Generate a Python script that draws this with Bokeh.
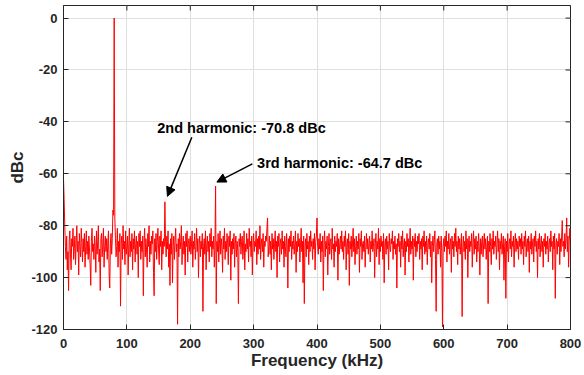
import math
from bokeh.plotting import figure
from bokeh.models import (FixedTicker, Label, Arrow, NormalHead, Range1d)
from bokeh.embed import file_html
from bokeh.resources import INLINE

# Frequency grid (kHz), 1 kHz steps from 0 to 800
freq_step_khz = 1
# Spectrum values in dBc (rows of 40 kHz)
spectrum_dbc = [
    -62, -70, -80, -88, -93, -84, -97, -90, -105, -86, -82, -91, -97, -85, -88, -81, -93, -89, -84, -95, -87, -80, -90, -86, -99, -83, -88, -92, -81, -87, -94, -85, -90, -83, -96, -88, -82, -91, -86, -93,
    -84, -89, -95, -103, -86, -81, -90, -87, -93, -84, -88, -98, -82, -91, -86, -80, -94, -89, -105, -85, -83, -92, -87, -81, -96, -88, -84, -90, -85, -93, -86, -82, -99, -104, -87, -83, -91, -85, -74, -76,
    0, -77, -85, -92, -88, -81, -96, -86, -90, -83, -111, -87, -84, -93, -80, -89, -86, -95, -82, -91, -88, -84, -99, -87, -81, -92, -86, -90, -83, -97, -85, -89, -82, -94, -87, -84, -91, -86, -100, -83,
    -88, -82, -93, -86, -90, -84, -107, -87, -81, -92, -85, -89, -96, -83, -88, -80, -94, -86, -91, -84, -87, -82, -98, -107, -85, -90, -83, -93, -86, -81, -89, -95, -84, -88, -82, -97, -86, -91, -85, -88,
    -70.8, -86, -92, -84, -89, -82, -96, -87, -103, -85, -91, -83, -102, -88, -84, -93, -86, -81, -90, -87, -118, -85, -92, -83, -89, -86, -80, -95, -88, -84, -91, -86, -99, -83, -88, -82, -94, -87, -85, -90,
    -84, -91, -87, -82, -96, -86, -89, -83, -93, -88, -81, -90, -85, -100, -87, -84, -92, -86, -89, -83, -113, -88, -85, -91, -82, -97, -87, -84, -90, -86, -94, -83, -88, -81, -92, -86, -89, -84, -96, -87,
    -64.7, -110, -86, -90, -83, -94, -87, -82, -91, -85, -88, -98, -84, -89, -81, -93, -86, -90, -83, -87, -95, -84, -88, -82, -101, -86, -91, -85, -89, -83, -96, -87, -84, -92, -86, -90, -110, -85, -88, -83,
    -91, -86, -84, -93, -88, -82, -97, -87, -90, -83, -89, -85, -94, -81, -88, -86, -92, -84, -99, -87, -83, -90, -86, -88, -82, -95, -85, -91, -84, -89, -80, -93, -87, -85, -90, -83, -96, -86, -88, -84,
    -86, -81, -77, -92, -88, -84, -91, -86, -97, -83, -89, -85, -93, -87, -82, -90, -86, -100, -84, -88, -83, -94, -87, -85, -91, -82, -89, -86, -96, -84, -88, -92, -83, -87, -104, -85, -90, -84, -88, -82,
    -93, -86, -89, -84, -91, -87, -82, -98, -86, -90, -83, -88, -85, -94, -87, -81, -90, -86, -102, -84, -110, -88, -85, -92, -83, -89, -86, -95, -84, -90, -82, -88, -86, -93, -85, -89, -83, -97, -86, -84,
    -77, -88, -91, -85, -89, -83, -94, -86, -90, -84, -105, -87, -82, -92, -86, -89, -84, -99, -88, -83, -91, -86, -85, -93, -81, -89, -87, -96, -84, -90, -86, -88, -83, -101, -85, -91, -87, -84, -89, -82,
    -90, -86, -93, -84, -88, -82, -97, -87, -85, -91, -83, -103, -86, -89, -84, -92, -87, -81, -90, -85, -95, -88, -84, -91, -86, -89, -83, -98, -85, -88, -82, -93, -87, -86, -90, -84, -96, -88, -83, -89,
    -85, -91, -87, -84, -94, -86, -89, -82, -90, -88, -85, -100, -87, -83, -92, -86, -89, -81, -95, -85, -90, -84, -88, -86, -93, -83, -102, -87, -85, -91, -84, -89, -86, -97, -83, -88, -90, -85, -87, -82,
    -93, -86, -89, -84, -91, -87, -104, -85, -88, -83, -90, -86, -96, -84, -89, -82, -92, -87, -85, -99, -86, -90, -83, -88, -85, -94, -87, -81, -91, -86, -89, -84, -101, -85, -88, -83, -92, -86, -90, -84,
    -87, -83, -93, -86, -89, -85, -97, -84, -88, -82, -91, -86, -90, -84, -95, -87, -85, -89, -83, -92, -86, -102, -88, -84, -90, -86, -82, -93, -113, -87, -85, -91, -84, -89, -86, -96, -84, -90, -119, -88,
    -85, -90, -84, -88, -82, -94, -86, -89, -83, -91, -87, -85, -98, -84, -89, -86, -92, -83, -88, -81, -90, -86, -95, -84, -89, -85, -91, -87, -83, -115, -88, -84, -90, -86, -93, -82, -89, -85, -100, -87,
    -84, -90, -86, -88, -83, -96, -87, -82, -91, -85, -89, -84, -94, -86, -90, -83, -88, -99, -85, -91, -86, -84, -92, -87, -83, -89, -85, -93, -88, -84, -110, -86, -90, -83, -88, -95, -85, -89, -82, -91,
    -86, -88, -84, -93, -87, -82, -90, -85, -97, -86, -89, -83, -91, -87, -84, -101, -88, -85, -108, -86, -90, -83, -94, -87, -85, -89, -82, -92, -86, -88, -84, -96, -87, -83, -90, -85, -89, -86, -93, -84,
    -88, -85, -91, -83, -89, -86, -95, -84, -88, -82, -92, -87, -85, -90, -84, -98, -86, -89, -83, -91, -87, -85, -94, -84, -88, -82, -90, -86, -100, -85, -89, -83, -92, -87, -84, -90, -86, -96, -85, -88,
    -83, -91, -86, -89, -84, -94, -87, -85, -90, -82, -88, -86, -97, -84, -89, -83, -108, -87, -85, -91, -86, -88, -83, -95, -85, -90, -84, -78, -88, -86, -92, -83, -89, -85, -77, -90, -84, -96, -86, -81,
    -85,
]
freq_khz = [i * freq_step_khz for i in range(len(spectrum_dbc))]

x_ticks = [0, 100, 200, 300, 400, 500, 600, 700, 800]
y_ticks = [0, -20, -40, -60, -80, -100, -120]
y_tick_labels = ["0", "-20", "-40", "-60", "-80", "-100", "-120"]
x_min, x_max = 0, 800
y_min, y_max = -120, 4.85

ann_texts = ["2nd harmonic: -70.8 dBc", "3rd harmonic: -64.7 dBc"]
ann_text_pos = [(148, -42.2), (305.5, -55.7)]
ann_arrows = [((202.5, -45.9), (164, -68.7)), ((298, -56.2), (242, -63.2))]

FONT = "Liberation Sans"
AX = "#262626"

p = figure(width=584, height=375, output_backend="svg", toolbar_location=None,
           x_range=Range1d(x_min, x_max), y_range=Range1d(y_min, y_max),
           min_border_left=63, min_border_right=14, min_border_top=5, min_border_bottom=46)
p.background_fill_color = "white"
p.border_fill_color = "white"
p.outline_line_color = AX
p.outline_line_width = 1

p.xgrid.ticker = FixedTicker(ticks=x_ticks)
p.ygrid.ticker = FixedTicker(ticks=y_ticks)
p.grid.grid_line_color = "#dfdfdf"
p.grid.grid_line_width = 1

p.line(freq_khz, spectrum_dbc, line_color="#ff0000", line_width=1)

for ax, ticks in ((p.xaxis[0], x_ticks), (p.yaxis[0], y_ticks)):
    ax.ticker = FixedTicker(ticks=ticks)
    ax.major_tick_in = 5
    ax.major_tick_out = 0
    ax.minor_tick_line_color = None
    ax.axis_line_color = AX
    ax.major_tick_line_color = AX
    ax.major_label_text_font = FONT
    ax.major_label_text_font_style = "bold"
    ax.major_label_text_font_size = "13px"
    ax.major_label_text_color = AX
    ax.axis_label_text_font = FONT
    ax.axis_label_text_font_style = "bold"
    ax.axis_label_text_font_size = "17px"
    ax.axis_label_text_color = AX

p.yaxis.major_label_overrides = {t: s for t, s in zip(y_ticks, y_tick_labels)}
p.xaxis.axis_label = "Frequency (kHz)"
p.yaxis.axis_label = "dBc"
p.xaxis.major_label_standoff = 9
p.xaxis.axis_label_standoff = 0
p.yaxis.major_label_standoff = 6
p.yaxis.axis_label_standoff = 1

# inward tick marks on the top and right edges of the box (clipped to the frame)
p.scatter(x_ticks, [y_max] * len(x_ticks), marker="dash", angle=math.pi / 2,
          size=10, line_color=AX, line_width=1)
p.scatter([x_max] * len(y_ticks), y_ticks, marker="dash", angle=0,
          size=10, line_color=AX, line_width=1)

for txt, (tx, ty) in zip(ann_texts, ann_text_pos):
    p.add_layout(Label(x=tx, y=ty, text=txt, text_font=FONT, text_font_style="bold",
                       text_font_size="14.5px", text_baseline="middle", text_align="left",
                       text_color="black"))

for (s, e) in ann_arrows:
    p.add_layout(Arrow(x_start=s[0], y_start=s[1], x_end=e[0], y_end=e[1],
                       line_color="black", line_width=1.5,
                       end=NormalHead(size=9, fill_color="black", line_color="black")))

open("out.html", "w").write(file_html(p, INLINE))
